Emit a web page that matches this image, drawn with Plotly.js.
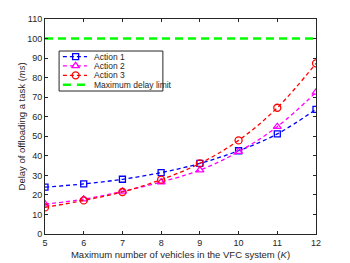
<!DOCTYPE html>
<html><head><meta charset="utf-8">
<script src="https://cdn.plot.ly/plotly-3.0.1.min.js"></script>
<style>html,body{margin:0;padding:0;background:#fff}</style>
</head><body><div id="chart" style="width:350px;height:263px"></div>
<script>
const K = [5, 6, 7, 8, 9, 10, 11, 12];
const action1 = [24.0, 25.6, 28.0, 31.4, 36.1, 42.6, 51.2, 63.8];
const action2 = [15.3, 17.8, 21.8, 26.6, 32.7, 42.1, 54.9, 72.5];
const action3 = [13.6, 17.2, 21.5, 27.8, 36.1, 47.9, 64.6, 87.3];
const delayLimit = [100, 100];
const limitX = [5, 12];
const seriesNames = ['Action 1', 'Action 2', 'Action 3', 'Maximum delay limit'];

const colors = ['#0000ff', '#ff00ff', '#ff0000', '#00ff00'];
const symbols = ['square-open', 'triangle-up-open', 'circle-open'];
const msize = [6, 7, 7];

const traces = [];
[action1, action2, action3].forEach((ys, i) => {
  traces.push({x: K, y: ys, name: seriesNames[i], mode: 'lines+markers', showlegend: false,
    line: {color: colors[i], dash: '4px,3px', width: 1.3, shape: 'spline'},
    marker: {symbol: symbols[i], size: msize[i], color: colors[i], line: {width: 1.3}}});
});
traces.push({x: limitX, y: delayLimit, name: seriesNames[3], mode: 'lines', showlegend: false,
  line: {color: colors[3], dash: '8px,5px', width: 2.5}});

// manual compact legend (MATLAB style), in overlay axes 0..1
const legRowsY = [0.825, 0.782, 0.738, 0.694];
const legMarkX = 0.113, legLineX0 = 0.066, legLineX1 = 0.155, legTextX = 0.172;
for (let i = 0; i < 3; i++) {
  traces.push({x: [legMarkX], y: [legRowsY[i]], xaxis: 'x2', yaxis: 'y2', mode: 'markers',
    showlegend: false, hoverinfo: 'skip',
    marker: {symbol: symbols[i], size: msize[i], color: colors[i], line: {width: 1.3}}});
}

const shapes = [{type: 'rect', xref: 'x2', yref: 'y2', x0: 0.052, x1: 0.435, y0: 0.665, y1: 0.851,
  line: {color: '#262626', width: 1}, fillcolor: '#fff', layer: 'below'}];
const annotations = [];
for (let i = 0; i < 4; i++) {
  shapes.push({type: 'line', xref: 'x2', yref: 'y2', x0: legLineX0, x1: legLineX1,
    y0: legRowsY[i], y1: legRowsY[i], layer: 'below',
    line: {color: colors[i], width: i === 3 ? 2.5 : 1.3, dash: i === 3 ? '8px,6px' : '4px,3px'}});
  annotations.push({xref: 'x2', yref: 'y2', x: legTextX, y: legRowsY[i], text: seriesNames[i],
    showarrow: false, xanchor: 'left', yanchor: 'middle', font: {size: 8.5, color: '#262626'}});
}
annotations.push({xref: 'paper', yref: 'paper', x: -0.085, y: 0.5, textangle: -90,
  text: 'Delay of offloading a task (<i>ms</i>)', showarrow: false,
  xanchor: 'center', yanchor: 'middle', font: {size: 9.5, color: '#262626'}});

const axisCommon = {
  showgrid: false, zeroline: false, showline: true, mirror: 'ticks',
  linecolor: '#262626', linewidth: 1, ticks: 'inside', ticklen: 3,
  tickcolor: '#262626', tickfont: {size: 9, color: '#262626'}
};

const layout = {
  width: 350, height: 263,
  margin: {l: 45, r: 34, t: 19, b: 29},
  font: {family: 'Liberation Sans, Arial, sans-serif', size: 9, color: '#262626'},
  paper_bgcolor: '#fff', plot_bgcolor: '#fff',
  showlegend: false,
  shapes: shapes, annotations: annotations,
  xaxis: Object.assign({}, axisCommon, {
    range: [5, 12], tickmode: 'linear', tick0: 5, dtick: 1,
    title: {text: 'Maximum number of vehicles in the VFC system (<i>K</i>)', font: {size: 9.5}, standoff: 4}
  }),
  yaxis: Object.assign({}, axisCommon, {
    range: [0, 110], tickmode: 'linear', tick0: 0, dtick: 10
  }),
  xaxis2: {overlaying: 'x', range: [0, 1], visible: false, fixedrange: true},
  yaxis2: {overlaying: 'y', range: [0, 1], visible: false, fixedrange: true}
};

Plotly.newPlot('chart', traces, layout, {displayModeBar: false, staticPlot: true});
</script></body></html>
